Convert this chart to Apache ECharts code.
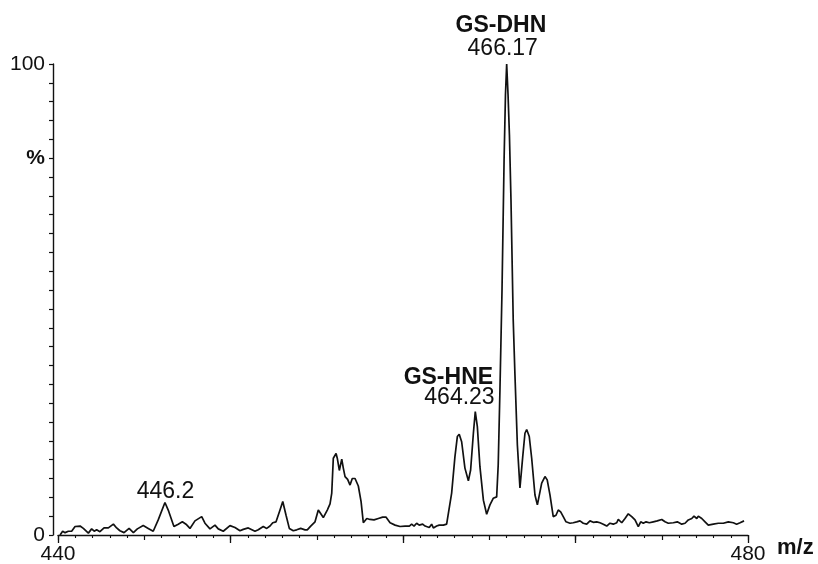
<!DOCTYPE html>
<html>
<head>
<meta charset="utf-8">
<script src="https://cdn.jsdelivr.net/npm/echarts@6/dist/echarts.min.js"></script>
<style>html,body{margin:0;padding:0;background:#fff}#c{width:818px;height:564px}</style>
</head>
<body>
<div id="c"></div>
<script>
// m/z values of the trace
const mz = [
440.12,440.27,440.41,440.60,440.79,440.99,441.28,441.47,441.76,441.95,442.10,442.24,442.43,442.67,442.92,443.21,443.40,443.59,443.83,444.12,
444.37,444.60,444.94,445.23,445.52,445.81,446.20,446.39,446.72,446.97,447.21,447.42,447.65,447.94,448.33,448.52,448.81,449.10,449.29,449.58,
449.97,450.26,450.55,450.74,451.03,451.13,451.42,451.61,451.90,452.10,452.29,452.45,452.64,452.87,453.03,453.22,453.41,453.64,453.84,454.07,
454.32,454.45,454.65,454.90,455.09,455.38,455.61,455.77,455.87,455.96,456.12,456.19,456.31,456.45,456.54,456.64,456.79,456.93,457.06,457.22,
457.41,457.57,457.70,457.90,458.09,458.32,458.57,458.82,459.01,459.25,459.54,459.83,460.12,460.37,460.50,460.64,460.79,460.94,461.14,461.28,
461.37,461.52,461.66,461.76,461.95,462.10,462.34,462.53,462.62,462.82,463.01,463.15,463.26,463.40,463.59,463.79,463.92,464.08,464.19,464.31,
464.46,464.66,464.85,465.04,465.23,465.43,465.52,465.62,465.74,465.86,465.94,466.01,466.09,466.17,466.26,466.39,466.49,466.63,466.78,466.94,
467.07,467.17,467.32,467.46,467.65,467.79,467.90,468.04,468.23,468.36,468.52,468.71,468.87,469.00,469.14,469.29,469.45,469.68,469.87,470.07,
470.26,470.45,470.65,470.84,471.03,471.23,471.42,471.61,471.81,472.00,472.19,472.39,472.48,472.68,472.87,473.06,473.26,473.45,473.64,473.78,
473.93,474.09,474.28,474.51,474.74,475.00,475.19,475.38,475.67,475.90,476.16,476.35,476.54,476.74,476.87,477.03,477.12,477.32,477.51,477.70,
477.99,478.28,478.57,478.86,479.15,479.34,479.54,479.77
];
// relative intensity (%)
const intensity = [
0.0,0.8,0.5,0.8,0.8,1.8,1.9,1.4,0.4,1.3,0.8,1.1,0.7,1.5,1.5,2.3,1.5,0.9,0.5,1.4,
0.5,1.3,2.0,1.4,0.8,3.2,6.9,5.3,1.8,2.3,2.8,2.3,1.4,3.0,3.9,2.5,1.3,2.1,1.3,0.8,
2.0,1.6,0.9,1.2,1.5,1.4,0.8,1.1,1.8,1.4,1.9,2.6,2.8,5.3,7.1,4.2,1.4,0.9,1.1,1.4,
1.1,1.1,1.9,2.8,5.3,3.7,5.3,6.6,8.9,16.3,17.3,16.3,13.7,16.1,14.2,12.4,11.8,10.6,12.0,12.0,
10.4,7.1,2.6,3.5,3.3,3.2,3.5,3.8,3.8,2.6,2.1,1.8,1.9,1.9,2.3,1.9,2.5,2.1,2.3,1.9,
2.1,1.6,2.3,1.5,1.9,2.1,2.1,2.3,2.5,8.9,16.6,20.9,21.4,19.8,14.2,11.5,13.8,21.6,26.2,23.0,
14.5,7.4,4.4,6.4,7.8,8.1,14.9,30.8,52.0,79.6,93.4,100.0,93.4,84.9,71.1,45.6,34.0,19.1,10.0,16.6,
21.6,22.4,20.9,16.3,8.5,6.4,6.7,11.0,12.4,11.7,8.5,3.9,4.2,5.3,4.9,3.9,2.8,2.5,2.6,2.8,
3.0,2.5,2.3,3.0,2.7,2.8,2.6,2.3,1.9,2.5,2.3,2.6,3.3,2.6,3.5,4.5,3.9,3.2,1.8,2.8,
2.5,2.8,2.6,2.8,3.0,3.3,2.8,2.5,2.6,2.8,2.3,2.5,3.2,3.5,4.0,3.5,4.0,3.5,2.8,2.1,
2.3,2.5,2.5,2.8,2.6,2.3,2.6,3.0
];
// tick labels
const xTickLabels = [440, 480];
const yTickLabels = [0, 100];
const yUnitTick = 80;
// peak annotations
const annotNames  = ['GS-DHN', 'GS-HNE', ''];
const annotValues = ['466.17', '464.23', '446.2'];
const annotMz     = [466.17, 464.23, 446.2];
const annotInt    = [100, 26.2, 6.9];

const FONT = '"Liberation Sans", Arial, sans-serif';
const data = mz.map((m, i) => [m, intensity[i]]);

const nameOffsets = [[-8.5, -38.5], [-27.6, -33.6], null];
const valOffsets  = [[-6.7, -15.8], [-16.5, -14.4], [0.5, -10.8]];
const mp = [];
annotMz.forEach((m, i) => {
  if (annotNames[i]) {
    mp.push({coord: [m, annotInt[i]], label: {formatter: annotNames[i], offset: nameOffsets[i], fontWeight: 'bold'}});
  }
  mp.push({coord: [m, annotInt[i]], label: {formatter: annotValues[i], offset: valOffsets[i], fontWeight: 'normal'}});
});

const chart = echarts.init(document.getElementById('c'), null, {renderer: 'canvas'});
chart.setOption({
  animation: false,
  backgroundColor: '#fff',
  grid: {left: 58, right: 70, top: 64, bottom: 29, containLabel: false, outerBoundsMode: 'none'},
  xAxis: [
    {
      type: 'value', position: 'bottom', min: 440, max: 480, interval: 5,
      axisLine: {show: true, onZero: false, lineStyle: {color: '#111', width: 1.4}},
      axisTick: {show: true, length: 5, lineStyle: {color: '#111', width: 1.2}},
      minorTick: {show: true, splitNumber: 5, length: 3, lineStyle: {color: '#111', width: 1.1}},
      axisLabel: {show: false},
      splitLine: {show: false}, minorSplitLine: {show: false},
      name: 'm/z', nameLocation: 'end', nameGap: 29,
      nameTextStyle: {fontFamily: FONT, fontSize: 22, fontWeight: 'bold', color: '#111', verticalAlign: 'top', padding: [2, 0, 0, 0]}
    },
    {
      type: 'value', position: 'bottom', offset: 0, min: 440, max: 480, interval: 10,
      axisLine: {show: false, onZero: false},
      axisTick: {show: true, length: 8, lineStyle: {color: '#111', width: 1.3}},
      axisLabel: {
        show: true, margin: 9, fontFamily: FONT, fontSize: 21, color: '#111',
        formatter: v => xTickLabels.indexOf(v) >= 0 ? String(v) : ''
      },
      splitLine: {show: false}
    }
  ],
  yAxis: {
    type: 'value', min: 0, max: 100, interval: 4, offset: 5,
    axisLine: {show: true, lineStyle: {color: '#111', width: 1.4}},
    axisTick: {show: true, length: 4, lineStyle: {color: '#111', width: 1.2}},
    splitLine: {show: false},
    axisLabel: {
      show: true, margin: 8, fontFamily: FONT, fontSize: 21, color: '#111',
      formatter: v => yTickLabels.indexOf(v) >= 0 ? String(v) : (v === yUnitTick ? '{b|%}' : ''),
      rich: {b: {fontFamily: FONT, fontSize: 21, fontWeight: 'bold', color: '#111'}}
    }
  },
  series: [{
    type: 'line',
    xAxisIndex: 0,
    data: data,
    showSymbol: false,
    symbol: 'none',
    smooth: false,
    lineStyle: {color: '#111', width: 1.7},
    markPoint: {
      symbol: 'circle', symbolSize: 1,
      itemStyle: {color: 'rgba(0,0,0,0)'},
      label: {show: true, position: 'inside', fontFamily: FONT, fontSize: 23, color: '#111'},
      data: mp
    }
  }]
});
</script>
</body>
</html>
